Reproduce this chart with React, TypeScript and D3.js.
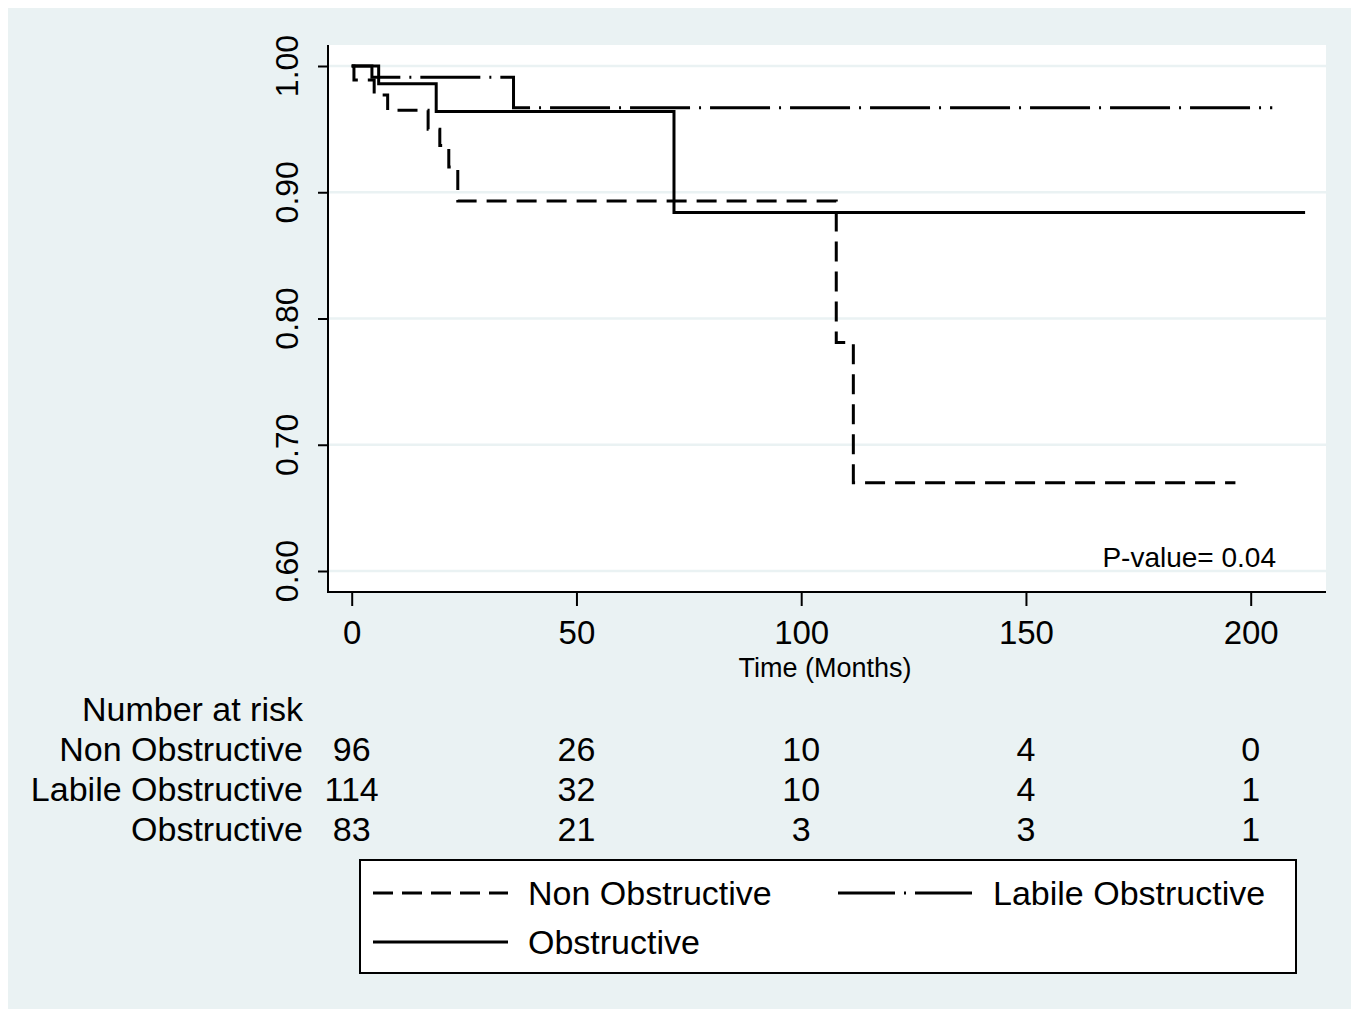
import React, { useRef, useEffect } from 'react'
import * as d3 from 'd3'

// Kaplan-Meier steps
const nonObsTimes = [0, 0.5, 5, 8, 17, 19.6, 21.6, 23.6, 107.8, 111.6, 196.6]
const nonObsSurv = [1.0, 0.989, 0.977, 0.965, 0.95, 0.937, 0.92, 0.893, 0.781, 0.67, 0.67]

const labileTimes = [0, 4.5, 36, 204.8]
const labileSurv = [1.0, 0.991, 0.967, 0.967]

const obsTimes = [0, 6, 18.8, 71.7, 212.1]
const obsSurv = [1.0, 0.986, 0.964, 0.884, 0.884]

const xTicks = [0, 50, 100, 150, 200]
const yTicks = [0.6, 0.7, 0.8, 0.9, 1.0]

const riskLabels = ['Non Obstructive', 'Labile Obstructive', 'Obstructive']
const riskNonObs = [96, 26, 10, 4, 0]
const riskLabile = [114, 32, 10, 4, 1]
const riskObs = [83, 21, 3, 3, 1]

const pValueText = 'P-value= 0.04'

export default function App() {
    const svgRef = useRef<SVGSVGElement>(null)

    const W = 1359
    const H = 1009
    const bg = '#eaf2f3'
    const font = '"Liberation Sans", Arial, sans-serif'

    // plot region
    const left = 328
    const right = 1326
    const top = 45
    const bottom = 592

    useEffect(() => {
        const svg = d3.select(svgRef.current)
        svg.selectAll('*').remove()

        const x = d3.scaleLinear().domain([0, 200]).range([351.7, 1250.7])
        const y = d3.scaleLinear().domain([0.6, 1.0]).range([571, 66])

        svg.append('rect')
            .attr('x', 8).attr('y', 8)
            .attr('width', W - 16).attr('height', H - 8)
            .attr('fill', bg)

        svg.append('rect')
            .attr('x', left).attr('y', top)
            .attr('width', right - left).attr('height', bottom - top)
            .attr('fill', 'white')

        // grid
        svg.append('g')
            .selectAll('line')
            .data(yTicks)
            .join('line')
            .attr('x1', left).attr('x2', right)
            .attr('y1', d => y(d)).attr('y2', d => y(d))
            .attr('stroke', bg)
            .attr('stroke-width', 2.5)

        // axes
        const yAxis = svg.append('g')
            .attr('transform', `translate(${left},0)`)
            .call(d3.axisLeft(y).tickValues(yTicks).tickSize(10).tickFormat(d3.format('.2f')))
        yAxis.select('.domain').remove()
        yAxis.selectAll('line').attr('stroke', 'black').attr('stroke-width', 2)
        yAxis.selectAll('text').remove()

        svg.append('g')
            .selectAll('text')
            .data(yTicks)
            .join('text')
            .attr('transform', d => `translate(298,${y(d)}) rotate(-90)`)
            .attr('text-anchor', 'middle')
            .attr('font-family', font)
            .attr('font-size', 32)
            .attr('fill', 'black')
            .text(d => d3.format('.2f')(d))

        const xAxis = svg.append('g')
            .attr('transform', `translate(0,${bottom})`)
            .call(d3.axisBottom(x).tickValues(xTicks).tickSize(14).tickPadding(0))
        xAxis.select('.domain').remove()
        xAxis.selectAll('line').attr('stroke', 'black').attr('stroke-width', 2)
        xAxis.selectAll('text')
            .attr('y', 52)
            .attr('dy', null)
            .attr('font-family', font)
            .attr('font-size', 33)
            .attr('fill', 'black')

        svg.append('line')
            .attr('x1', left).attr('x2', left)
            .attr('y1', top).attr('y2', bottom + 1)
            .attr('stroke', 'black').attr('stroke-width', 2)
        svg.append('line')
            .attr('x1', left - 1).attr('x2', right)
            .attr('y1', bottom).attr('y2', bottom)
            .attr('stroke', 'black').attr('stroke-width', 2)

        svg.append('text')
            .attr('x', (left + right) / 2 - 2)
            .attr('y', 677)
            .attr('text-anchor', 'middle')
            .attr('font-family', font)
            .attr('font-size', 27)
            .text('Time (Months)')

        // curves
        const line = d3.line<[number, number]>()
            .x(d => x(d[0]))
            .y(d => y(d[1]))
            .curve(d3.curveStepAfter)

        const series = [
            { t: nonObsTimes, s: nonObsSurv, dash: '20,10' },
            { t: labileTimes, s: labileSurv, dash: '60,9,2,9' },
            { t: obsTimes, s: obsSurv, dash: null },
        ]

        svg.append('g')
            .selectAll('path')
            .data(series)
            .join('path')
            .attr('d', d => line(d.t.map((t, i) => [t, d.s[i]] as [number, number])))
            .attr('fill', 'none')
            .attr('stroke', 'black')
            .attr('stroke-width', 3)
            .attr('stroke-dasharray', d => d.dash)

        svg.append('text')
            .attr('x', 1276).attr('y', 567)
            .attr('text-anchor', 'end')
            .attr('font-family', font)
            .attr('font-size', 28)
            .text(pValueText)

        // number at risk table
        svg.append('text')
            .attr('x', 303).attr('y', 721)
            .attr('text-anchor', 'end')
            .attr('font-family', font)
            .attr('font-size', 34)
            .text('Number at risk')

        const rows = [riskNonObs, riskLabile, riskObs]
        rows.forEach((vals, r) => {
            const by = 761 + r * 40
            svg.append('text')
                .attr('x', 303).attr('y', by)
                .attr('text-anchor', 'end')
                .attr('font-family', font)
                .attr('font-size', 34)
                .text(riskLabels[r])
            svg.append('g')
                .selectAll('text')
                .data(vals)
                .join('text')
                .attr('x', (d, i) => x(xTicks[i]))
                .attr('y', by)
                .attr('text-anchor', 'middle')
                .attr('font-family', font)
                .attr('font-size', 34)
                .text(d => d)
        })

        // legend
        svg.append('rect')
            .attr('x', 360).attr('y', 860)
            .attr('width', 936).attr('height', 113)
            .attr('fill', 'white')
            .attr('stroke', 'black')
            .attr('stroke-width', 2)

        const legendItems = [
            { label: riskLabels[0], dash: '20,9', lx: 373, ly: 893 },
            { label: riskLabels[1], dash: '57,9,2,9', lx: 838, ly: 893 },
            { label: riskLabels[2], dash: null, lx: 373, ly: 942 },
        ]
        const lg = svg.append('g')
        legendItems.forEach(it => {
            lg.append('line')
                .attr('x1', it.lx).attr('x2', it.lx + 135)
                .attr('y1', it.ly).attr('y2', it.ly)
                .attr('stroke', 'black')
                .attr('stroke-width', 3)
                .attr('stroke-dasharray', it.dash)
            lg.append('text')
                .attr('x', it.lx + 155).attr('y', it.ly + 12)
                .attr('font-family', font)
                .attr('font-size', 34)
                .text(it.label)
        })
    }, [])

    return (
        <svg ref={svgRef} width={W} height={H}
            style={{ position: 'absolute', left: 0, top: 0, display: 'block' }} />
    )
}
